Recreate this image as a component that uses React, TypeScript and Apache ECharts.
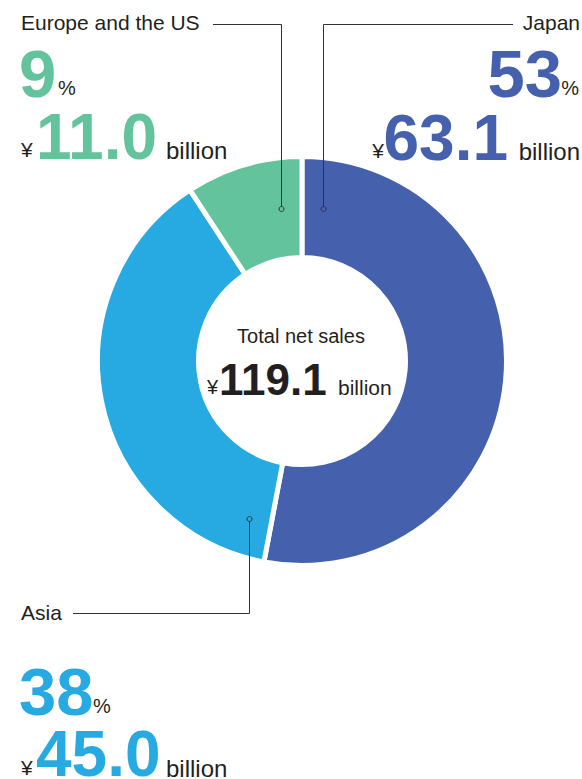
import React, { useEffect, useRef } from 'react';
import * as echarts from 'echarts';

// ---- data ----
const regions = ['Japan', 'Asia', 'Europe and the US'];
const salesBillionYen = [63.1, 45.0, 11.0];
const totalLabel = 'Total net sales';
const unitLabel = 'billion';
const currency = '¥';

// ---- style ----
const COLORS = ['#4560ad', '#27aae1', '#63c39d'];
const FONT = '"Liberation Sans", Arial, Helvetica, sans-serif';
const INK = '#231f20';
const LINE = '#333333';
const K = 0.35;

function txt(x: number, base: number, text: string, size: number, color = INK, weight: any = 'normal', align = 'left') {
  return {
    type: 'text',
    x,
    y: base - K * size,
    silent: true,
    z: 100,
    style: {
      text,
      fontSize: size,
      fontFamily: FONT,
      fontWeight: weight,
      fill: color,
      align,
      verticalAlign: 'middle',
    },
  };
}

export default function App() {
  const ref = useRef<HTMLDivElement>(null);
  useEffect(() => {
    document.body.style.margin = '0';
    if (!ref.current) return;
    const chart = echarts.init(ref.current, null, { renderer: 'svg' });
    const total = salesBillionYen.reduce((a, b) => a + b, 0);
    const pct = salesBillionYen.map((v) => String(Math.round((v / total) * 100)));
    const amt = salesBillionYen.map((v) => v.toFixed(1));

    const [iJ, iA, iE] = [0, 1, 2];

    const lineStyle = { stroke: LINE, lineWidth: 1, fill: null };
    const dot = (cx: number, cy: number) => ({
      type: 'circle',
      z: 101,
      silent: true,
      shape: { cx, cy, r: 2.5 },
      style: { fill: null, stroke: LINE, lineWidth: 1 },
    });

    const graphic: any[] = [
      // Europe and the US
      txt(21, 30, regions[iE], 21),
      txt(19, 97, pct[iE], 67, COLORS[iE], 'bold'),
      txt(58, 95, '%', 20),
      txt(21, 157, currency, 21),
      txt(36, 159, amt[iE], 64, COLORS[iE], 'bold'),
      txt(166, 159, unitLabel, 24),
      { type: 'polyline', z: 100, silent: true, shape: { points: [[213, 24.5], [281.5, 24.5], [281.5, 206.5]] }, style: lineStyle },
      dot(281.5, 209),
      // Japan
      txt(580, 30, regions[iJ], 21, INK, 'normal', 'right'),
      txt(562, 97, pct[iJ], 67, COLORS[iJ], 'bold', 'right'),
      txt(579, 95, '%', 20, INK, 'normal', 'right'),
      txt(580, 160, unitLabel, 24, INK, 'normal', 'right'),
      txt(508, 160, amt[iJ], 64, COLORS[iJ], 'bold', 'right'),
      txt(384, 158, currency, 21, INK, 'normal', 'right'),
      { type: 'polyline', z: 100, silent: true, shape: { points: [[513, 24.5], [323.5, 24.5], [323.5, 206.5]] }, style: lineStyle },
      dot(323.5, 209),
      // Asia
      txt(21, 620, regions[iA], 21),
      txt(19, 715, pct[iA], 67, COLORS[iA], 'bold'),
      txt(93, 713, '%', 20),
      txt(21, 775, currency, 21),
      txt(36, 776, amt[iA], 64, COLORS[iA], 'bold'),
      txt(166, 777, unitLabel, 24),
      { type: 'polyline', z: 100, silent: true, shape: { points: [[73, 613.5], [249.5, 613.5], [249.5, 521.5]] }, style: lineStyle },
      dot(249.5, 519),
      // center
      txt(301, 343, totalLabel, 20, INK, 'normal', 'center'),
      txt(207, 394, currency, 20),
      txt(219, 395, total.toFixed(1), 44, INK, 'bold'),
      txt(338, 395, unitLabel, 21),
    ];

    chart.setOption({
      animation: false,
      backgroundColor: '#ffffff',
      series: [
        {
          type: 'pie',
          center: [302, 361],
          radius: [103.5, 204.5],
          startAngle: 90,
          clockwise: true,
          silent: true,
          label: { show: false },
          labelLine: { show: false },
          itemStyle: { borderColor: '#ffffff', borderWidth: 5 },
          data: regions.map((name, i) => ({
            name,
            value: salesBillionYen[i],
            itemStyle: { color: COLORS[i] },
          })),
        },
      ],
      graphic,
    });
    return () => chart.dispose();
  }, []);
  return <div ref={ref} style={{ width: 582, height: 779 }} />;
}
